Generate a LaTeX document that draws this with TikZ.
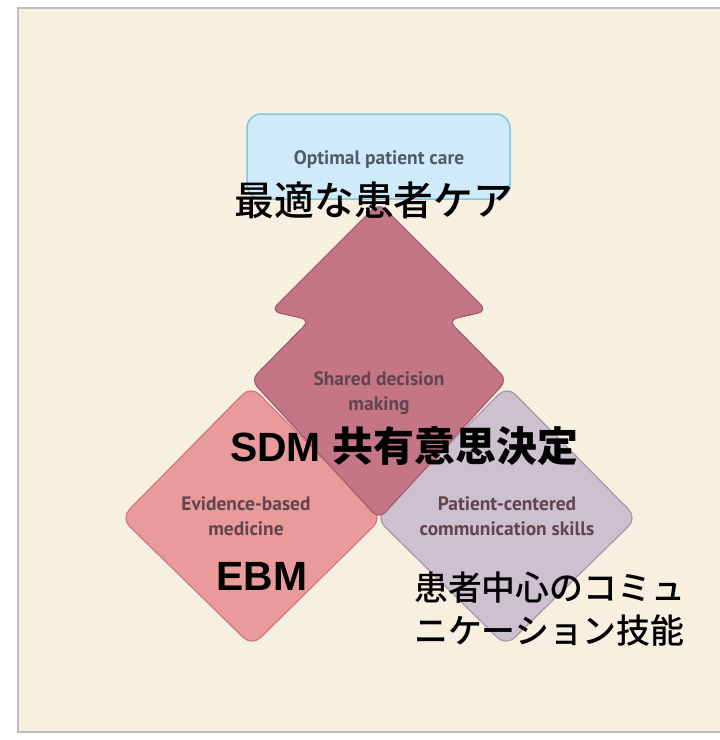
\documentclass[tikz,border=0pt]{standalone}
\usepackage{fontspec}
\setmainfont{Liberation Sans}
\newfontfamily\jp{Noto Sans CJK JP}
\newfontfamily\jpm{Noto Sans CJK JP Medium}
\newfontfamily\lab{PT Sans}
\definecolor{bgbeige}{HTML}{F7EFE0}
\definecolor{panelline}{HTML}{BDBDBD}
\definecolor{boxfill}{HTML}{CFEAF8}
\definecolor{boxline}{HTML}{7FC6E2}
\definecolor{boxtext}{HTML}{4E5C6A}
\definecolor{ebmfill}{HTML}{E99A9A}
\definecolor{ebmline}{HTML}{D07A80}
\definecolor{pccfill}{HTML}{CDC0CF}
\definecolor{pccline}{HTML}{A898AA}
\definecolor{sdmfill}{HTML}{C57686}
\definecolor{sdmline}{HTML}{A35E6C}
\definecolor{labtext}{HTML}{62444E}
\tikzset{
  shapebox/.style={rounded corners=12bp, line width=1.2bp},
  elabel/.style={font=\lab\bfseries\fontsize{19.5}{25}\selectfont, align=center, inner sep=0pt, text=labtext},
  jbig/.style={font=\jpm\fontsize{40}{44}\selectfont, inner sep=0pt, text=black},
  jmid/.style={font=\jpm\fontsize{34}{42}\selectfont, inner sep=0pt, text=black, align=left},
  latbig/.style={font=\bfseries\fontsize{41}{46}\selectfont, inner sep=0pt, text=black},
}
\begin{document}
\begin{tikzpicture}[x=1bp,y=-1bp]
\useasboundingbox (0,0) rectangle (720,740);
\fill[white] (0,0) rectangle (720,740);
% panel
\fill[bgbeige] (18,8) rectangle (760,732);
\draw[panelline, line width=1.5bp] (760,8) -- (18,8) -- (18,732) -- (760,732);
% blue box
\node[draw=boxline, fill=boxfill, line width=1.5bp, rounded corners=14bp,
      minimum width=263bp, minimum height=85bp, inner sep=0pt] (care) at (378.5,156.5) {};
\node[elabel, text=boxtext] (caretxt) at (379,160) {Optimal patient care};
% EBM diamond
\filldraw[shapebox, fill=ebmfill, draw=ebmline]
  (121,518) -- (251,386) -- (382,518) -- (252,646) -- cycle;
% PCC diamond
\filldraw[shapebox, fill=pccfill, draw=pccline]
  (376,518) -- (507,386) -- (637,518) -- (506,646) -- cycle;
% SDM arrow
\filldraw[shapebox, rounded corners=9bp, fill=sdmfill, draw=sdmline]
  (379,203) -- (271,311) -- (310,320) -- (251,380) -- (379,519)
  -- (507,380) -- (448,320) -- (487,311) -- cycle;
% English labels
\node[elabel] (sdm) at (379,393) {Shared decision\\making};
\node[elabel] (ebm) at (246,516) {Evidence-based\\medicine};
\node[elabel] (pcc) at (507,516) {Patient-centered\\communication skills};
% Japanese / large labels
\node[jbig] (carejp) at (374,200) {最適な患者ケア};
\node[inner sep=0pt] (sdmjp) at (404,446) {{\bfseries\fontsize{41}{46}\selectfont SDM}\hspace{12bp}{\jp\bfseries\fontsize{41}{46}\selectfont 共有意思決定}};
\node[latbig] (ebmjp) at (262,576) {EBM};
\node[jmid, anchor=west] (pccjp1) at (414,588) {患者中心のコミュ};
\node[jmid, anchor=west] (pccjp2) at (414,631) {ニケーション技能};
\end{tikzpicture}
\end{document}
